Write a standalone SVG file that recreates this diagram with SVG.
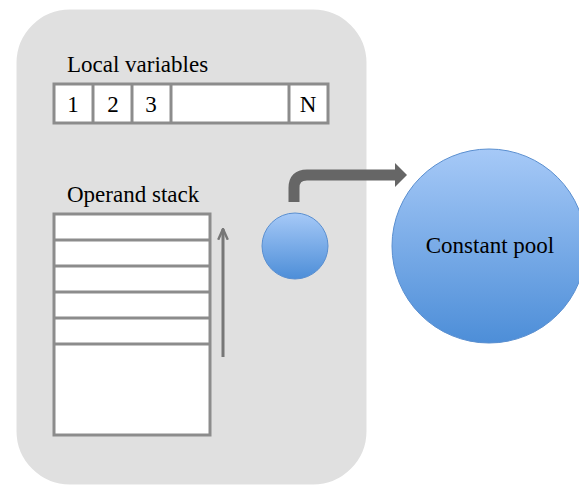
<svg xmlns="http://www.w3.org/2000/svg" width="579" height="488" viewBox="0 0 579 488">
<defs>
<linearGradient id="blue" x1="0" y1="0" x2="0" y2="1">
<stop offset="0" stop-color="#a6c9f7"/>
<stop offset="1" stop-color="#4d8ed8"/>
</linearGradient>
<marker id="head" viewBox="0 0 10 10" refX="9" refY="5" markerWidth="4" markerHeight="4" orient="auto" markerUnits="strokeWidth">
<path d="M0,1 L9,5 L0,9" fill="none" stroke="#777" stroke-width="2"/>
</marker>
<style>
.t{font-family:'Liberation Serif','DejaVu Serif',serif;font-size:23px;fill:#000}
.cell{fill:#fff;stroke:#8c8c8c;stroke-width:3}
.ball{fill:url(#blue);stroke:#5a8fd0;stroke-width:1}
</style>
</defs>
<rect width="579" height="488" fill="#fff"/>
<g id="frame">
<rect x="15" y="8" width="353" height="478" rx="55" fill="#e0e0e0" stroke="#fff" stroke-width="3"/>
</g>
<g id="local-variables">
<text class="t" x="67" y="72">Local variables</text>
<rect class="cell" x="54" y="84" width="274" height="39"/>
<line x1="93" y1="84" x2="93" y2="123" stroke="#8c8c8c" stroke-width="3"/>
<line x1="132" y1="84" x2="132" y2="123" stroke="#8c8c8c" stroke-width="3"/>
<line x1="171" y1="84" x2="171" y2="123" stroke="#8c8c8c" stroke-width="3"/>
<line x1="289" y1="84" x2="289" y2="123" stroke="#8c8c8c" stroke-width="3"/>
<text class="t" x="73" y="112" text-anchor="middle">1</text>
<text class="t" x="113" y="112" text-anchor="middle">2</text>
<text class="t" x="151" y="112" text-anchor="middle">3</text>
<text class="t" x="308" y="112" text-anchor="middle">N</text>
</g>
<g id="operand-stack">
<text class="t" x="67" y="202">Operand stack</text>
<rect class="cell" x="54" y="214" width="156" height="221"/>
<line x1="54" y1="240" x2="210" y2="240" stroke="#8c8c8c" stroke-width="3"/>
<line x1="54" y1="266" x2="210" y2="266" stroke="#8c8c8c" stroke-width="3"/>
<line x1="54" y1="292" x2="210" y2="292" stroke="#8c8c8c" stroke-width="3"/>
<line x1="54" y1="318" x2="210" y2="318" stroke="#8c8c8c" stroke-width="3"/>
<line x1="54" y1="344" x2="210" y2="344" stroke="#8c8c8c" stroke-width="3"/>
</g>
<g id="reference">
<circle class="ball" cx="295" cy="246" r="33"/>
</g>
<g id="constant-pool">
<circle class="ball" cx="489" cy="246" r="97"/>
<text class="t" x="490" y="253" text-anchor="middle">Constant pool</text>
</g>
<g id="connectors">
<line x1="223" y1="357" x2="223" y2="229" stroke="#777" stroke-width="3" marker-end="url(#head)"/>
<path d="M294,202 V188 Q294,175 307,175 H396" fill="none" stroke="#666" stroke-width="11"/>
<polygon points="395,163 407,175 395,187" fill="#666"/>
</g>
</svg>
